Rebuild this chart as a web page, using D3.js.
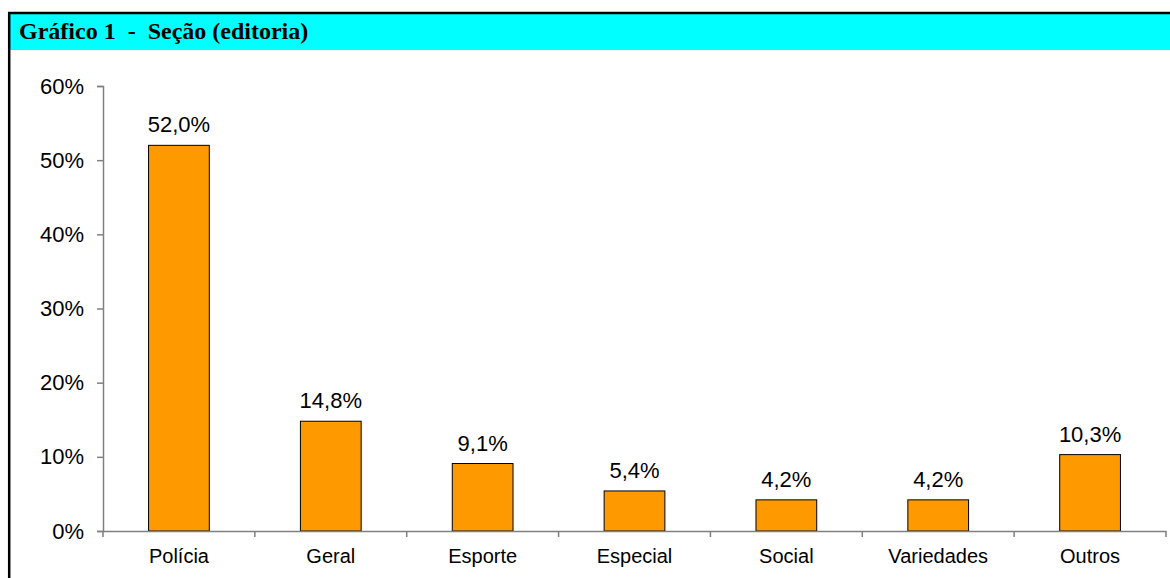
<!DOCTYPE html>
<html>
<head>
<meta charset="utf-8">
<script src="https://cdn.jsdelivr.net/npm/d3@7"></script>
<style>
  body { margin: 0; background: #fff; }
  svg { display: block; }
</style>
</head>
<body>
<div class="visData"></div>
<script>
const w = 1170;
const h = 578;

// data
const categories = ["Polícia", "Geral", "Esporte", "Especial", "Social", "Variedades", "Outros"];
const values = [52.0, 14.8, 9.1, 5.4, 4.2, 4.2, 10.3];
const yTicks = [0, 10, 20, 30, 40, 50, 60];
const title = "Gráfico 1  -  Seção (editoria)";

const svg = d3
  .select(".visData")
  .append("svg")
  .attr("width", w)
  .attr("height", h);

//header box
svg.append("rect")
  .attr("x", 9)
  .attr("y", 13)
  .attr("width", w - 9)
  .attr("height", 37)
  .attr("fill", "#00FFFF");

svg.append("line")
  .attr("x1", 8).attr("x2", w)
  .attr("y1", 13).attr("y2", 13)
  .attr("stroke", "#000")
  .attr("stroke-width", 2.5);

svg.append("line")
  .attr("x1", 9.2).attr("x2", 9.2)
  .attr("y1", 12).attr("y2", h)
  .attr("stroke", "#000")
  .attr("stroke-width", 2.5);

svg.append("text")
  .attr("x", 19)
  .attr("y", 39)
  .attr("font-family", "'Liberation Serif', 'Times New Roman', serif")
  .attr("font-weight", "bold")
  .attr("font-size", 24)
  .style("white-space", "pre")
  .text(title);

//scales
const xScale = d3.scaleBand()
  .domain(categories)
  .range([103, 1166])
  .paddingInner(0.6)
  .paddingOuter(0.3);

const yScale = d3.scaleLinear()
  .domain([0, 60])
  .range([531, 86]);

//bars
svg.selectAll(".bar")
  .data(values)
  .enter()
  .append("rect")
  .attr("class", "bar")
  .attr("x", (d, i) => xScale(categories[i]))
  .attr("y", (d) => yScale(d))
  .attr("width", xScale.bandwidth())
  .attr("height", (d) => yScale(0) - yScale(d))
  .attr("fill", "#FF9900")
  .attr("stroke", "#000")
  .attr("stroke-width", 1);

//value labels
svg.selectAll(".lbl")
  .data(values)
  .enter()
  .append("text")
  .attr("class", "lbl")
  .attr("x", (d, i) => xScale(categories[i]) + xScale.bandwidth() / 2)
  .attr("y", (d) => yScale(d) - 13)
  .attr("text-anchor", "middle")
  .attr("font-family", "Arial, 'Liberation Sans', sans-serif")
  .attr("font-size", 22)
  .text((d) => d.toFixed(1).replace(".", ",") + "%");

//axis
const xAxis = d3.axisBottom(xScale).tickSize(0).tickPadding(18);
const yAxis = d3.axisLeft(yScale)
  .tickValues(yTicks)
  .tickSize(6)
  .tickPadding(13)
  .tickFormat((d) => d + "%");

const gx = svg.append("g")
  .attr("id", "x-axis")
  .attr("transform", `translate(0, ${yScale(0)})`)
  .call(xAxis);
gx.select(".domain").attr("stroke", "#808080").attr("stroke-width", 1.5);
gx.selectAll(".tick text")
  .attr("font-family", "Arial, 'Liberation Sans', sans-serif")
  .attr("font-size", 20)
  .attr("fill", "#000");

// category separators
const seps = d3.range(categories.length + 1).map((i) => 103 + i * (1063 / categories.length));
gx.selectAll(".sep")
  .data(seps)
  .enter()
  .append("line")
  .attr("class", "sep")
  .attr("x1", (d) => d).attr("x2", (d) => d)
  .attr("y1", 0).attr("y2", 6)
  .attr("stroke", "#808080")
  .attr("stroke-width", 1.5);

const gy = svg.append("g")
  .attr("id", "y-axis")
  .attr("transform", `translate(103, 0)`)
  .call(yAxis);
gy.select(".domain").attr("stroke", "#808080").attr("stroke-width", 1.5);
gy.selectAll(".tick line").attr("stroke", "#808080").attr("stroke-width", 1.5);
gy.selectAll(".tick text")
  .attr("font-family", "Arial, 'Liberation Sans', sans-serif")
  .attr("font-size", 22)
  .attr("fill", "#000");
</script>
</body>
</html>
